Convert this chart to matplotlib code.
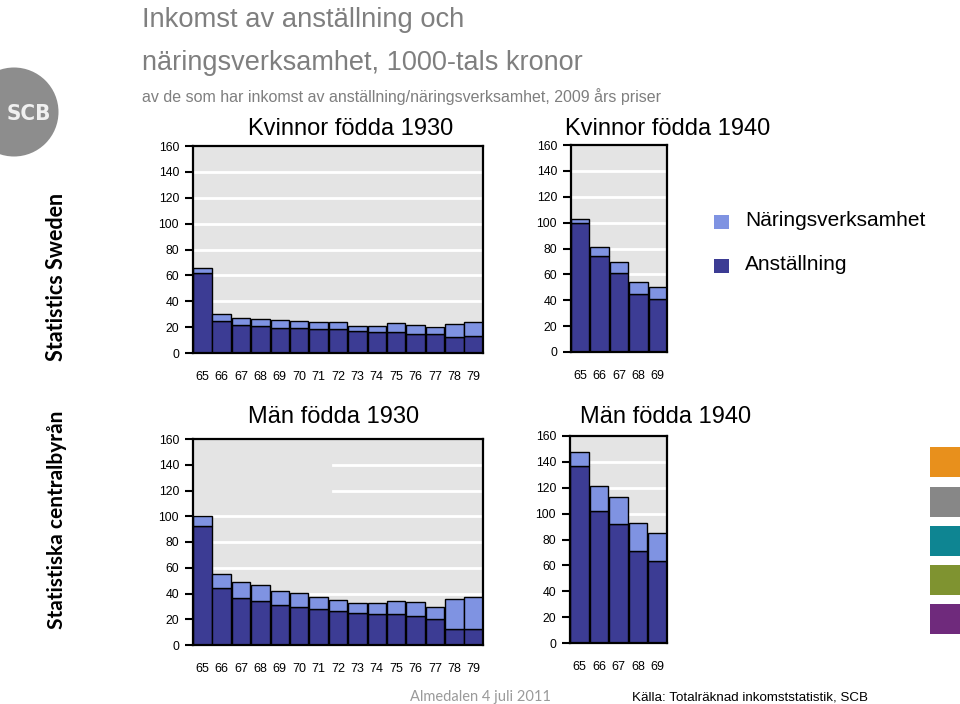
import matplotlib
matplotlib.use("Agg")
import matplotlib.pyplot as plt
from matplotlib.patches import Rectangle, Circle
import numpy as np

plt.rcParams['font.family'] = ['Liberation Sans', 'DejaVu Sans']

# ---------------- data ----------------
years_1930 = ['65', '66', '67', '68', '69', '70', '71', '72', '73', '74', '75', '76', '77', '78', '79']
years_1940 = ['65', '66', '67', '68', '69']

kv1930_anst = [61.7, 24.8, 21.7, 20.9, 19.6, 19.6, 18.3, 18.3, 17.3, 16.0, 16.0, 15.0, 15.0, 12.1, 13.2]
kv1930_nar = [4.1, 5.7, 5.7, 5.4, 5.9, 5.2, 5.7, 5.7, 3.6, 4.9, 7.0, 6.9, 4.9, 10.4, 10.8]

kv1940_anst = [100.0, 74.3, 60.9, 44.9, 41.0]
kv1940_nar = [3.0, 6.7, 8.8, 9.3, 9.0]

man1930_anst = [92.8, 44.6, 36.8, 34.5, 31.4, 29.6, 27.7, 26.7, 24.6, 23.9, 23.9, 22.8, 20.0, 12.4, 12.4]
man1930_nar = [7.6, 10.9, 12.0, 12.4, 10.6, 10.6, 9.4, 8.6, 7.8, 8.5, 10.6, 10.7, 9.6, 23.6, 24.7]

man1940_anst = [136.7, 102.3, 91.9, 71.2, 63.4]
man1940_nar = [10.6, 19.1, 21.0, 21.5, 21.5]

series_names = ['Näringsverksamhet', 'Anställning']
panel_titles = ['Kvinnor födda 1930', 'Kvinnor födda 1940', 'Män födda 1930', 'Män födda 1940']
yticks = [0, 20, 40, 60, 80, 100, 120, 140, 160]

DARK = '#3c3c94'
LIGHT = '#7f93e2'
BG = '#e4e4e4'

W, H = 960, 704
fig = plt.figure(figsize=(W / 100, H / 100), dpi=100)
fig.patch.set_facecolor('white')


def box(left, top, right, bottom):
    return [left / W, 1 - bottom / H, (right - left) / W, (bottom - top) / H]


def fx(x):
    return x / W


def fy(y):
    return 1 - y / H


def panel(rect, years, anst, nar, partial_grid=None):
    ax = fig.add_axes(rect)
    ax.set_facecolor(BG)
    x = np.arange(len(years))
    for g in yticks[1:-1]:
        xmin = 0
        if partial_grid and g in partial_grid:
            xmin = partial_grid[g]
        ax.axhline(g, xmin=xmin, xmax=1, color='white', lw=2, zorder=0.5)
    ax.bar(x, anst, width=0.95, color=DARK, edgecolor='black', lw=1, zorder=2)
    ax.bar(x, nar, width=0.95, bottom=anst, color=LIGHT, edgecolor='black', lw=1, zorder=2)
    ax.set_xlim(-0.48, len(years) - 0.52)
    ax.set_ylim(0, 160)
    ax.set_yticks(yticks)
    ax.set_xticks(x)
    ax.set_xticklabels(years)
    ax.tick_params(axis='x', length=0, pad=13, labelsize=9)
    ax.tick_params(axis='y', length=6, width=1.5, pad=4, labelsize=8.8, direction='out')
    for s in ax.spines.values():
        s.set_linewidth(1.6)
        s.set_color('black')
    return ax


panel(box(193, 146, 483, 353), years_1930, kv1930_anst, kv1930_nar)
panel(box(571, 145, 667, 352), years_1940, kv1940_anst, kv1940_nar)
panel(box(193, 439, 483, 645), years_1930, man1930_anst, man1930_nar,
      partial_grid={120: 0.483, 140: 0.483})
panel(box(570, 436, 667, 643), years_1940, man1940_anst, man1940_nar)

# panel titles
fig.text(fx(248), fy(135), panel_titles[0], fontsize=17, ha='left', va='baseline')
fig.text(fx(565), fy(135), panel_titles[1], fontsize=17, ha='left', va='baseline')
fig.text(fx(248), fy(423), panel_titles[2], fontsize=17, ha='left', va='baseline')
fig.text(fx(580), fy(423), panel_titles[3], fontsize=17, ha='left', va='baseline')

# main title
fig.text(fx(142), fy(27), 'Inkomst av anställning och', fontsize=19.7, color='#7f7f7f',
         ha='left', va='baseline')
fig.text(fx(142), fy(70), 'näringsverksamhet, 1000-tals kronor', fontsize=19.5, color='#7f7f7f',
         ha='left', va='baseline')
fig.text(fx(142), fy(102), 'av de som har inkomst av anställning/näringsverksamhet, 2009 års priser',
         fontsize=11.5, color='#7f7f7f', ha='left', va='baseline')

# legend
for (yc, col, name) in [(222, LIGHT, series_names[0]), (266, DARK, series_names[1])]:
    fig.patches.append(Rectangle((714 / 100, (H - yc - 7) / 100), 0.15, 0.14,
                                 transform=fig.dpi_scale_trans, facecolor=col,
                                 edgecolor='none'))
    fig.text(fx(745), fy(yc + 4), name, fontsize=15, ha='left', va='baseline')

# SCB logo
fig.patches.append(Circle((0.14, (H - 112) / 100), 0.445, transform=fig.dpi_scale_trans,
                          facecolor='#8d8d8d', edgecolor='none'))
fig.text(fx(29), fy(114), 'SCB', fontsize=16, fontweight='bold', color='#f0f0f0',
         family=['DejaVu Sans', 'Liberation Sans'], stretch='condensed',
         ha='center', va='center')

# side texts
fig.text(fx(57), fy(277), 'Statistics Sweden', rotation=90, fontsize=15.5, fontweight='bold',
         family=['Lato', 'DejaVu Sans'], ha='center', va='center')
fig.text(fx(57), fy(520), 'Statistiska centralbyrån', rotation=90, fontsize=15, fontweight='bold',
         family=['Lato', 'DejaVu Sans'], ha='center', va='center')

# colour squares on the right
for top, col in [(447, '#e8901c'), (487, '#878787'), (526, '#0e8592'),
                 (565, '#7f9330'), (604, '#6f2a7c')]:
    fig.patches.append(Rectangle((930 / 100, (H - top - 30) / 100), 0.30, 0.30,
                                 transform=fig.dpi_scale_trans, facecolor=col,
                                 edgecolor='none'))

# footer
fig.text(fx(410), fy(701), 'Almedalen 4 juli 2011', fontsize=10.5, color='#9a9a9a',
         family=['Lato', 'DejaVu Sans'], ha='left', va='baseline')
fig.text(fx(632), fy(701), 'Källa: Totalräknad inkomststatistik, SCB', fontsize=9.6,
         ha='left', va='baseline')

fig.savefig('out.png', dpi=100)
